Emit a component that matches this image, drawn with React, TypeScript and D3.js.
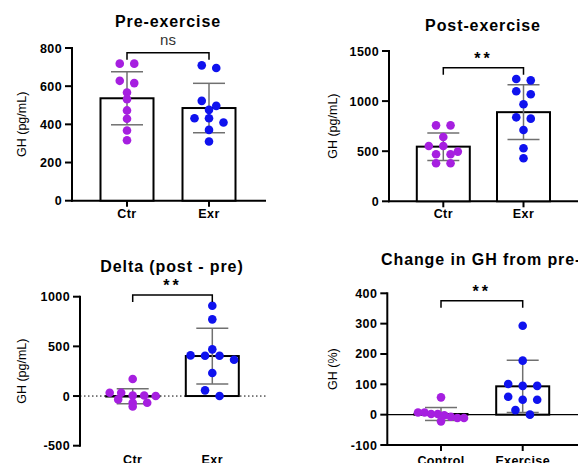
import * as d3 from "d3";

const font = "'Liberation Sans', Arial, sans-serif";
const purple = "#a61fe0";
const blue = "#0f12ee";
const grey = "#707070";

// values
const shortGroups = ["Ctr", "Exr"];
const longGroups = ["Control", "Exercise"];

const preCtr = [718, 718, 628, 616, 567, 532, 473, 429, 368, 317];
const preExr = [709, 695, 523, 497, 476, 432, 432, 410, 371, 310];
const preTicks = [0, 200, 400, 600, 800];

const postCtr = [758, 758, 642, 552, 552, 496, 469, 469, 379, 379];
const postExr = [1221, 1207, 1098, 1068, 968, 838, 825, 712, 529, 429];
const postTicks = [0, 500, 1000, 1500];

const deltaCtr = [171, 33, 33, 6, 0, 6, -34, -67, -67, -105];
const deltaExr = [909, 772, 470, 409, 406, 406, 366, 232, 57, 0];
const deltaTicks = [-500, 0, 500, 1000];

const pctCtr = [57, 7, 7, 2, 2, -2, -7, -11, -11, -22];
const pctExr = [293, 178, 101, 95, 95, 59, 49, 49, 15, 0];
const pctTicks = [-100, 0, 100, 200, 300, 400];

// Prism-style row scatter: points that sit on the same row are spread sideways
function dodge(values: number[], y: (v: number) => number) {
  const sorted = [...values].sort((a, b) => b - a);
  const bins: number[][] = [];
  sorted.forEach((v) => {
    const last = bins[bins.length - 1];
    if (!last || y(v) - y(last[0]) >= 5.8) bins.push([v]);
    else last.push(v);
  });
  const out: { v: number; dx: number }[] = [];
  bins.forEach((b) => {
    const n = b.length;
    const s = n > 1 ? Math.min(14.5, 46 / (n - 1)) : 0;
    b.forEach((v, k) => out.push({ v, dx: (k - (n - 1) / 2) * s }));
  });
  return out;
}

type PanelProps = {
  title: string;
  titleX: number;
  titleY: number;
  titleAnchor?: string;
  yLabel: string;
  yLabelX: number;
  groups: string[];
  series: number[][];
  ticks: number[];
  axisX: number;
  yRange: [number, number];
  centers: [number, number];
  xEnd: number;
  labelY: number;
  zeroDotted?: boolean;
  bottomAxis?: boolean;
  sig: string;
  sigY: number;
  bracketY: number;
};

function Panel(p: PanelProps) {
  const lo = p.ticks[0];
  const hi = p.ticks[p.ticks.length - 1];
  const y = d3.scaleLinear().domain([lo, hi]).range(p.yRange);
  const x = d3.scalePoint<string>().domain(p.groups).range(p.centers);
  const colors = [purple, blue];
  const y0 = y(0);
  const labelMid = (y(lo) + y(hi)) / 2;

  return (
    <g>
      <text
        x={p.titleX}
        y={p.titleY}
        textAnchor={p.titleAnchor || "middle"}
        fontFamily={font}
        fontWeight="bold"
        fontSize={16}
        letterSpacing={0.9}
      >
        {p.title}
      </text>
      <text
        transform={`translate(${p.yLabelX},${labelMid}) rotate(-90)`}
        textAnchor="middle"
        dominantBaseline="central"
        fontFamily={font}
        fontSize={12.5}
      >
        {p.yLabel}
      </text>

      {/* zero line / x axis */}
      {p.zeroDotted ? (
        <line x1={p.axisX} x2={p.xEnd} y1={y0} y2={y0} stroke="#000" strokeWidth={1} strokeDasharray="1.5,2.5" />
      ) : p.bottomAxis ? (
        <line x1={p.axisX} x2={p.xEnd} y1={y0} y2={y0} stroke="#000" strokeWidth={1.3} />
      ) : (
        <line x1={p.axisX - 1} x2={p.xEnd} y1={y0} y2={y0} stroke="#000" strokeWidth={2} />
      )}
      {p.bottomAxis && (
        <line x1={p.axisX - 1} x2={p.xEnd} y1={y(lo)} y2={y(lo)} stroke="#000" strokeWidth={2} />
      )}

      {/* bars, error bars, points */}
      {p.groups.map((g, i) => {
        const vals = p.series[i];
        const m = d3.mean(vals) as number;
        const sd = d3.deviation(vals) as number;
        const cx = x(g) as number;
        const pts = dodge(vals, y);
        return (
          <g key={g}>
            <rect
              x={cx - 26.5}
              width={53}
              y={Math.min(y(m), y0)}
              height={Math.max(Math.abs(y(m) - y0), 0.5)}
              fill="#fff"
              stroke="#000"
              strokeWidth={2}
            />
            <line x1={cx} x2={cx} y1={y(m + sd)} y2={y(m - sd)} stroke={grey} strokeWidth={1.5} />
            <line x1={cx - 16} x2={cx + 16} y1={y(m + sd)} y2={y(m + sd)} stroke={grey} strokeWidth={1.5} />
            <line x1={cx - 16} x2={cx + 16} y1={y(m - sd)} y2={y(m - sd)} stroke={grey} strokeWidth={1.5} />
            {pts.map((d, k) => (
              <circle key={k} cx={cx + d.dx} cy={y(d.v)} r={4.3} fill={colors[i]} />
            ))}
          </g>
        );
      })}

      {/* y axis */}
      <line x1={p.axisX} x2={p.axisX} y1={y(lo) + 1} y2={y(hi) - 1} stroke="#000" strokeWidth={2} />
      {p.ticks.map((t) => (
        <g key={t}>
          <line x1={p.axisX - 7} x2={p.axisX} y1={y(t)} y2={y(t)} stroke="#000" strokeWidth={2} />
          <text
            x={p.axisX - 10}
            y={y(t)}
            dy="0.36em"
            textAnchor="end"
            fontFamily={font}
            fontWeight="bold"
            fontSize={12.5}
            letterSpacing={0.4}
          >
            {t}
          </text>
        </g>
      ))}

      {/* x labels */}
      {p.groups.map((g) => {
        const cx = x(g) as number;
        const tickY = p.bottomAxis ? y(lo) : y0;
        return (
          <g key={g}>
            {!p.zeroDotted && (
              <line x1={cx} x2={cx} y1={tickY} y2={tickY + 6} stroke="#000" strokeWidth={2} />
            )}
            <text
              x={cx}
              y={p.labelY}
              textAnchor="middle"
              fontFamily={font}
              fontWeight="bold"
              fontSize={12.5}
              letterSpacing={0.4}
            >
              {g}
            </text>
          </g>
        );
      })}

      {/* significance bracket */}
      <path
        d={`M${p.centers[0]},${p.bracketY + 7}V${p.bracketY}H${p.centers[1]}V${p.bracketY + 7}`}
        fill="none"
        stroke="#000"
        strokeWidth={1.5}
      />
      <text
        x={(p.centers[0] + p.centers[1]) / 2}
        y={p.sigY}
        textAnchor="middle"
        fontFamily={font}
        fontSize={p.sig === "ns" ? 15 : 16}
        fontWeight={p.sig === "ns" ? "normal" : "bold"}
        letterSpacing={p.sig === "ns" ? 0 : 3}
        fill={p.sig === "ns" ? "#333" : "#000"}
      >
        {p.sig}
      </text>
    </g>
  );
}

export default function App() {
  return (
    <svg
      width={578}
      height={463}
      style={{ position: "absolute", left: 0, top: 0, background: "#fff" }}
    >
      <Panel
        title="Pre-exercise"
        titleX={168}
        titleY={26.5}
        yLabel="GH (pg/mL)"
        yLabelX={22}
        groups={shortGroups}
        series={[preCtr, preExr]}
        ticks={preTicks}
        axisX={72}
        yRange={[200.7, 48]}
        centers={[127, 209]}
        xEnd={266}
        labelY={218}
        sig="ns"
        sigY={45}
        bracketY={52.7}
      />
      <Panel
        title="Post-exercise"
        titleX={483}
        titleY={30.5}
        yLabel="GH (pg/mL)"
        yLabelX={333}
        groups={shortGroups}
        series={[postCtr, postExr]}
        ticks={postTicks}
        axisX={389}
        yRange={[201.3, 51]}
        centers={[443.3, 523.5]}
        xEnd={578}
        labelY={218}
        sig="**"
        sigY={64}
        bracketY={67.7}
      />
      <Panel
        title="Delta (post - pre)"
        titleX={172}
        titleY={272}
        yLabel="GH (pg/mL)"
        yLabelX={22}
        groups={shortGroups}
        series={[deltaCtr, deltaExr]}
        ticks={deltaTicks}
        axisX={80}
        yRange={[445.7, 296.7]}
        centers={[132.7, 212.3]}
        xEnd={266}
        labelY={464}
        zeroDotted
        sig="**"
        sigY={291}
        bracketY={295}
      />
      <Panel
        title="Change in GH from pre-exercise"
        titleX={381}
        titleY={265}
        titleAnchor="start"
        yLabel="GH (%)"
        yLabelX={332.5}
        groups={longGroups}
        series={[pctCtr, pctExr]}
        ticks={pctTicks}
        axisX={387.3}
        yRange={[445, 293.3]}
        centers={[441, 522.7]}
        xEnd={578}
        labelY={465}
        bottomAxis
        sig="**"
        sigY={297}
        bracketY={300.7}
      />
    </svg>
  );
}
